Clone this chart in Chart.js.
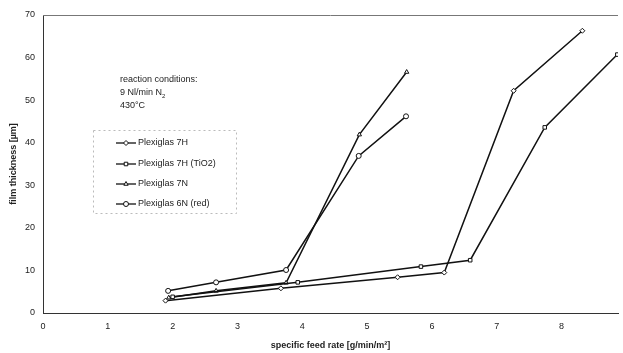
<!DOCTYPE html>
<html>
<head>
<meta charset="utf-8">
<script src="https://cdn.jsdelivr.net/npm/chart.js@4/dist/chart.umd.min.js"></script>
<style>
  html, body { margin: 0; padding: 0; background: #fff; }
  #wrap { width: 623px; height: 353px; }
</style>
</head>
<body>
<div id="wrap"><canvas id="filmChart"></canvas></div>
<script>
// values
const seriesNames = ['Plexiglas 7H', 'Plexiglas 7H (TiO2)', 'Plexiglas 7N', 'Plexiglas 6N (red)'];
const markerStyles = ['rectRot', 'rect', 'triangle', 'circle'];

const feed7H = [1.89, 3.67, 5.47, 6.19, 7.26, 8.32];
const thick7H = [2.9, 5.8, 8.4, 9.5, 52.2, 66.3];

const feed7HTiO2 = [2.0, 3.93, 5.83, 6.59, 7.74, 8.86];
const thick7HTiO2 = [3.8, 7.2, 10.9, 12.4, 43.6, 60.7];

const feed7N = [1.94, 2.67, 3.75, 4.88, 5.61];
const thick7N = [3.6, 5.2, 7.1, 41.9, 56.6];

const feed6N = [1.93, 2.67, 3.75, 4.87, 5.6];
const thick6N = [5.2, 7.2, 10.1, 36.9, 46.2];

const xTicks = [0, 1, 2, 3, 4, 5, 6, 7, 8];
const yTicks = [0, 10, 20, 30, 40, 50, 60, 70];

const feeds = [feed7H, feed7HTiO2, feed7N, feed6N];
const thicks = [thick7H, thick7HTiO2, thick7N, thick6N];

const datasets = seriesNames.map((name, i) => ({
    label: name,
    data: feeds[i].map((x, j) => ({ x: x, y: thicks[i][j] })),
    showLine: true,
    borderColor: '#111',
    borderWidth: 1.5,
    pointStyle: markerStyles[i],
    pointRadius: 2.5,
    pointBackgroundColor: '#fff',
    pointBorderColor: '#111',
    pointBorderWidth: 1,
}));

// legend box and the note, drawn inside the plot
const notesPlugin = {
    id: 'notes',
    afterDraw(chart) {
        const c = chart.ctx;
        const area = chart.chartArea;
        c.save();
        // top border line
        c.strokeStyle = '#777';
        c.lineWidth = 1;
        c.beginPath();
        c.moveTo(area.left, area.top + 0.5);
        c.lineTo(area.right, area.top + 0.5);
        c.stroke();

        c.fillStyle = '#222';
        c.font = '9px "Liberation Sans", Arial, sans-serif';
        c.textBaseline = 'middle';
        c.fillText('reaction conditions:', 120, 80);
        c.fillText('9 Nl/min N', 120, 93);
        const w = c.measureText('9 Nl/min N').width;
        c.font = '6px "Liberation Sans", Arial, sans-serif';
        c.fillText('2', 120 + w, 96);
        c.font = '9px "Liberation Sans", Arial, sans-serif';
        c.fillText('430°C', 120, 106);

        // legend frame
        c.strokeStyle = '#bbb';
        c.setLineDash([2, 3]);
        c.strokeRect(93.5, 130.5, 143, 83);
        c.setLineDash([]);

        const rows = [143, 164, 184, 204];
        rows.forEach((yy, i) => {
            c.strokeStyle = '#111';
            c.lineWidth = 1.3;
            c.beginPath();
            c.moveTo(116, yy);
            c.lineTo(136, yy);
            c.stroke();
            c.lineWidth = 1;
            c.fillStyle = '#fff';
            c.strokeStyle = '#111';
            Chart.helpers.drawPoint(c, { pointStyle: markerStyles[i], radius: 2.5, borderWidth: 1 }, 126, yy);
            c.fillStyle = '#222';
            c.font = '9px "Liberation Sans", Arial, sans-serif';
            c.fillText(seriesNames[i], 138, yy);
        });
        c.restore();
    }
};

const ctx = document.getElementById('filmChart').getContext('2d');
const filmChart = new Chart(ctx, {
    type: 'scatter',
    data: { datasets: datasets },
    plugins: [notesPlugin],
    options: {
        responsive: true,
        maintainAspectRatio: false,
        animation: false,
        layout: { padding: { top: 15, right: 0, left: 0, bottom: 0 } },
        plugins: {
            legend: { display: false },
            tooltip: { enabled: false },
        },
        scales: {
            x: {
                type: 'linear',
                min: 0,
                max: 8.87,
                afterBuildTicks: (axis) => { axis.ticks = xTicks.map(v => ({ value: v })); },
                afterFit: (axis) => { axis.height = 40; },
                grid: { display: false, drawTicks: true, tickLength: 4, color: '#333' },
                border: { color: '#333', width: 1 },
                ticks: { color: '#222', font: { size: 9, family: '"Liberation Sans", Arial, sans-serif' }, padding: 4 },
                title: {
                    display: true,
                    text: 'specific feed rate [g/min/m²]',
                    color: '#222',
                    font: { size: 9, weight: 'bold', family: '"Liberation Sans", Arial, sans-serif' },
                    padding: { top: 2, bottom: 2 },
                },
            },
            y: {
                type: 'linear',
                min: 0,
                max: 70,
                afterBuildTicks: (axis) => { axis.ticks = yTicks.map(v => ({ value: v })); },
                afterFit: (axis) => { axis.width = 43; },
                grid: { display: false, drawTicks: true, tickLength: 4, color: '#333' },
                border: { color: '#333', width: 1 },
                ticks: { color: '#222', font: { size: 9, family: '"Liberation Sans", Arial, sans-serif' }, padding: 4 },
                title: {
                    display: true,
                    text: 'film thickness [µm]',
                    color: '#222',
                    font: { size: 9, weight: 'bold', family: '"Liberation Sans", Arial, sans-serif' },
                    padding: { top: 8, bottom: 0 },
                },
            },
        },
    },
});
</script>
</body>
</html>
